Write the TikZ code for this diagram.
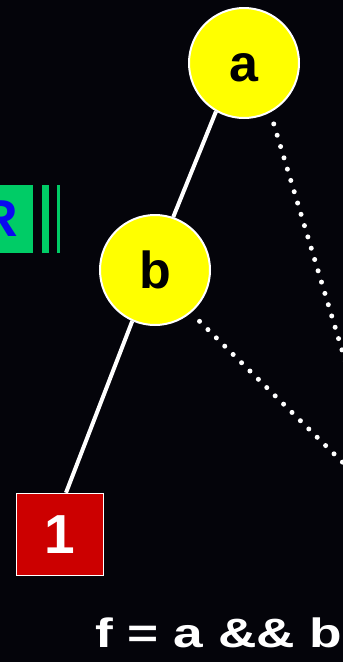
\documentclass[tikz,border=0pt]{standalone}
\usepackage{fontspec}
\setmainfont{Liberation Sans}
\definecolor{bg}{RGB}{4,4,10}
\definecolor{termred}{RGB}{204,0,0}
\definecolor{boxgreen}{RGB}{0,204,102}
\definecolor{rblue}{RGB}{10,10,240}
\definecolor{varyellow}{RGB}{255,255,0}
\begin{document}
\begin{tikzpicture}[x=1pt,y=-1pt,
  var/.style={circle, draw=white, line width=2pt, fill=varyellow, minimum size=110pt, inner sep=0pt,
    text height=37.5pt, text depth=0pt, font=\fontsize{52}{52}\selectfont\bfseries, text=black},
  term/.style={draw=white, line width=1.5pt, fill=termred, minimum width=87pt, minimum height=82pt,
    inner sep=0pt, font=\fontsize{55}{55}\selectfont\bfseries, text=white},
  order/.style={fill=boxgreen, minimum width=68pt, minimum height=68pt, inner sep=0pt,
    font=\fontsize{52}{52}\selectfont\bfseries, text=rblue},
  bar/.style={fill=boxgreen},
  solidedge/.style={white, line width=4pt},
  dottededge/.style={white, line width=5pt, line cap=round, dash pattern=on 0pt off 11.8pt, shorten <=12pt}]
\useasboundingbox (0,0) rectangle (343,662);
\fill[bg] (0,0) rectangle (343,662);
\clip (0,0) rectangle (343,662);
% variable ordering box
\node[order] (r) at (-1,219) {R};
\fill[bar] (42,185) rectangle (49,253);
\fill[bar] (57,185) rectangle (59.5,253);
% nodes
\coordinate (zero) at (390,509);
\node[var] (a) at (244,63) {a};
\node[var] (b) at (155,270) {b};
\node[term] (one) at (60,534.5) {1};
% edges
\draw[dottededge] (a.298) -- (zero);
\draw[dottededge] (b.310) -- (zero);
\draw[solidedge] (a.240) -- (b.71);
\draw[solidedge] (b.246) -- ([xshift=6pt]one.north);
% formula
\node[anchor=base west, inner sep=0pt, text=white, font=\fontsize{41}{41}\selectfont\bfseries] (f) at (95,647) {\scalebox{1.3}[1]{f = a \&\& b}};
\end{tikzpicture}
\end{document}
